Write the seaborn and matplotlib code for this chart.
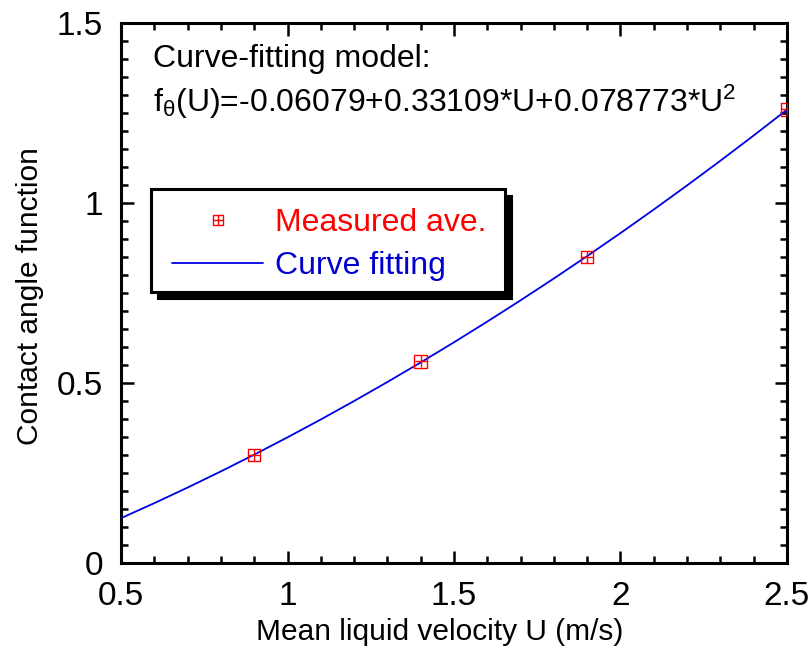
import numpy as np
import pandas as pd
import matplotlib
matplotlib.use("Agg")
import matplotlib.pyplot as plt
from matplotlib.lines import Line2D
from matplotlib.patches import Rectangle
import matplotlib.transforms as mtransforms
import seaborn as sns

# Measured averages
velocity = [0.9, 1.4, 1.9, 2.5]
contact_fn = [0.30, 0.56, 0.85, 1.26]

# Quadratic fit coefficients: c0 + c1*U + c2*U^2
coef = [-0.06079, 0.33109, 0.078773]
fit_range = [0.5, 2.5]

x_ticks = [0.5, 1, 1.5, 2, 2.5]
x_ticklabels = ["0.5", "1", "1.5", "2", "2.5"]
y_ticks = [0, 0.5, 1, 1.5]
y_ticklabels = ["0", "0.5", "1", "1.5"]

sns.set_theme(style="white")
plt.rcParams["font.family"] = ["Liberation Sans", "DejaVu Sans"]
plt.rcParams["mathtext.fontset"] = "custom"
plt.rcParams["mathtext.rm"] = "Liberation Sans"
plt.rcParams["mathtext.it"] = "Liberation Sans"
plt.rcParams["mathtext.default"] = "regular"

DPI = 100
fig = plt.figure(figsize=(8.12, 6.52), dpi=DPI)
ax = fig.add_axes([121 / 812, 1 - 563 / 652, 666 / 812, 540 / 652])

u = np.linspace(fit_range[0], fit_range[1], 21)
f = coef[0] + coef[1] * u + coef[2] * u ** 2
fit_df = pd.DataFrame({"U": u, "f": f})
pts_df = pd.DataFrame({"U": velocity, "f": contact_fn})

blue = "#0000E6"
red = "#FF0000"

sns.lineplot(data=fit_df, x="U", y="f", ax=ax, color=blue, lw=1.3, zorder=3)
sns.scatterplot(data=pts_df, x="U", y="f", ax=ax, marker="s", s=80,
                facecolor="none", edgecolor=red, linewidth=1.0, zorder=4)
sns.scatterplot(data=pts_df, x="U", y="f", ax=ax, marker="+", s=80,
                color=red, linewidth=1.0, zorder=4)

ax.set_xlim(0.5, 2.5)
ax.set_ylim(0, 1.5)
ax.set_xticks(x_ticks)
ax.set_xticklabels(x_ticklabels)
ax.set_yticks(y_ticks)
ax.set_yticklabels(y_ticklabels)
ax.set_xticks(np.arange(0.5, 2.51, 0.1), minor=True)
ax.set_yticks(np.arange(0, 1.51, 0.05), minor=True)
ax.tick_params(which="both", direction="in", top=True, right=True,
               bottom=True, left=True, color="black")
ax.tick_params(which="major", length=9, width=1.8, labelsize=24, pad=13,
               labelcolor="black")
ax.tick_params(which="minor", length=5, width=1.8)
for s in ax.spines.values():
    s.set_linewidth(2.2)
    s.set_color("black")

ax.set_xlabel("Mean liquid velocity U (m/s)", fontsize=21.5, color="black")
ax.set_ylabel("Contact angle function", fontsize=21.5, color="black")
ax.xaxis.set_label_coords((440 - 121) / 666, -(632 - 563) / 540)
ax.yaxis.set_label_coords(-(121 - 30) / 666, (563 - 296) / 540)
ax.xaxis.label.set_va("center")
ax.yaxis.label.set_va("center")

# Model annotation
ax.text(153 / 812, 1 - 67 / 652, "Curve-fitting model:", transform=fig.transFigure,
        fontsize=23, color="black", va="baseline")
ax.text(153 / 812, 1 - 112 / 652,
        r"f$_\theta$(U)=-0.06079+0.33109*U+0.078773*U$^{2}$",
        transform=fig.transFigure, fontsize=23, color="black", va="baseline")

# Legend box with a solid drop shadow
bx0, by0 = (151 - 121) / 666, (563 - 292) / 540
bw, bh = (505 - 151) / 666, (292 - 189) / 540
shadow_tr = ax.transAxes + mtransforms.ScaledTranslation(7 / DPI, -7 / DPI, fig.dpi_scale_trans)
ax.add_patch(Rectangle((bx0, by0), bw, bh, transform=shadow_tr, facecolor="black",
                       edgecolor="black", lw=1.5, zorder=6, clip_on=False))
ax.add_patch(Rectangle((bx0, by0), bw, bh, transform=ax.transAxes, facecolor="white",
                       edgecolor="black", lw=2.2, zorder=7, clip_on=False))

h_pts = (Line2D([], [], ls="none", marker="s", ms=7, mfc="none", mec=red, mew=1.0),
         Line2D([], [], ls="none", marker="+", ms=7, mec=red, mew=1.0))
h_fit = Line2D([], [], color=blue, lw=1.3)
leg = ax.legend([h_pts, h_fit], ["Measured ave.", "Curve fitting"],
                loc="upper left", bbox_to_anchor=((172 - 121) / 666, (563 - 208) / 540),
                frameon=False, fontsize=23, handlelength=2.85, handletextpad=0.38,
                labelspacing=0.42, borderpad=0.0, borderaxespad=0.0)
leg.set_zorder(8)
for txt, c in zip(leg.get_texts(), [red, "#0000CC"]):
    txt.set_color(c)

fig.savefig("out.png", dpi=DPI, facecolor="white")
